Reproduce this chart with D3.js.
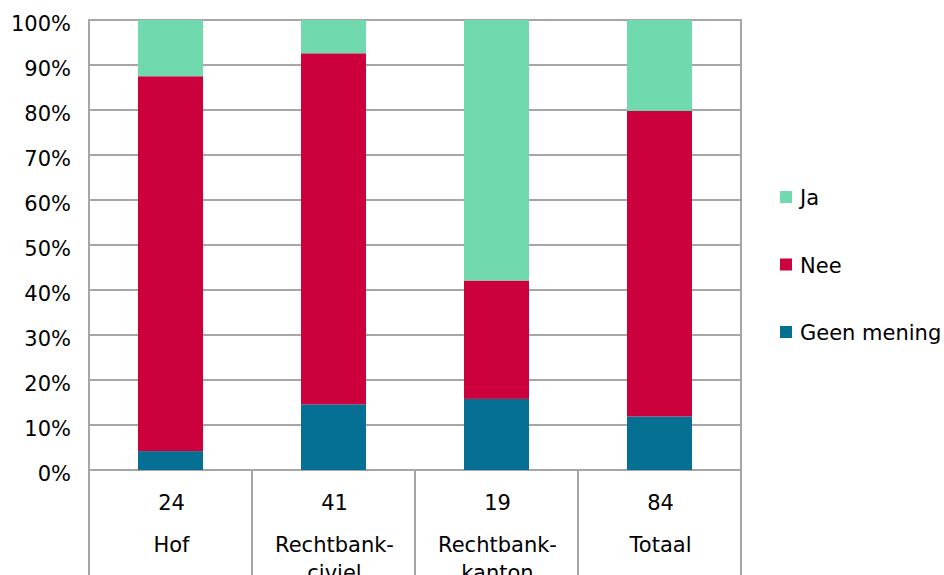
<!DOCTYPE html>
<html>
<head>
<meta charset="utf-8">
<script src="https://cdn.jsdelivr.net/npm/d3@7/dist/d3.min.js"></script>
<style>
	body { margin: 0; background: #fff; }
	svg text { font-family: "DejaVu Sans", Verdana, sans-serif; fill: #000; }
</style>
</head>
<body>
<svg id="chart" width="944" height="575"></svg>
<script>
// data (percentages)
var categories = ["Hof", "Rechtbank-civiel", "Rechtbank-kanton", "Totaal"];
var labelLines = [["Hof"], ["Rechtbank-", "civiel"], ["Rechtbank-", "kanton"], ["Totaal"]];
var counts = [24, 41, 19, 84];
var geenMening = [4.2, 14.6, 15.8, 11.9];
var nee = [83.3, 78.0, 26.3, 67.9];
var ja = [12.5, 7.4, 57.9, 20.2];
var seriesNames = ["Geen mening", "Nee", "Ja"];
var seriesColors = ["#066f94", "#cc003d", "#70d9ad"];
var yTicks = d3.range(0, 101, 10);

var svg = d3.select("#chart");
var plotLeft = 89, plotRight = 741, plotTop = 20, plotBottom = 470;

var x = d3.scaleBand()
	.domain(categories)
	.range([plotLeft, plotRight])
	.paddingInner(0)
	.paddingOuter(0);

var y = d3.scaleLinear()
	.domain([0, 100])
	.range([plotBottom, plotTop]);

var rows = categories.map(function(c, i) {
	return { cat: c, "Geen mening": geenMening[i], "Nee": nee[i], "Ja": ja[i] };
});
var stacked = d3.stack().keys(seriesNames)(rows);

// gridlines
svg.append("g")
	.selectAll("line")
	.data(yTicks)
	.enter()
	.append("line")
	.attr("x1", plotLeft)
	.attr("x2", plotRight)
	.attr("y1", function(d) { return y(d); })
	.attr("y2", function(d) { return y(d); })
	.attr("stroke", "#a6a6a6")
	.attr("stroke-width", 2);

// y labels
svg.append("g")
	.selectAll("text")
	.data(yTicks)
	.enter()
	.append("text")
	.attr("x", 71)
	.attr("y", function(d) { return y(d) + 11; })
	.attr("text-anchor", "end")
	.attr("font-size", "21px")
	.text(function(d) { return d + "%"; });

// bars
var barW = 65;
svg.append("g")
	.selectAll("g")
	.data(stacked)
	.enter()
	.append("g")
	.attr("fill", function(d, i) { return seriesColors[i]; })
	.selectAll("rect")
	.data(function(d) { return d; })
	.enter()
	.append("rect")
	.attr("x", function(d) { return x(d.data.cat) + x.bandwidth() / 2 - barW / 2; })
	.attr("width", barW)
	.attr("y", function(d) { return y(d[1]); })
	.attr("height", function(d) { return y(d[0]) - y(d[1]); });

// frame and table lines
var bounds = categories.map(function(c) { return x(c); }).concat([plotRight]);
svg.append("g")
	.selectAll("line")
	.data(bounds)
	.enter()
	.append("line")
	.attr("x1", function(d) { return d; })
	.attr("x2", function(d) { return d; })
	.attr("y1", function(d, i) { return (i == 0 || i == bounds.length - 1) ? plotTop - 1 : plotBottom; })
	.attr("y2", 575)
	.attr("stroke", "#a6a6a6")
	.attr("stroke-width", 2);

// table text: counts and names
var cells = svg.append("g")
	.selectAll("g")
	.data(categories)
	.enter()
	.append("g")
	.attr("transform", function(d) { return "translate(" + (x(d) + x.bandwidth() / 2 + 1) + ",0)"; });

cells.append("text")
	.attr("y", 510)
	.attr("text-anchor", "middle")
	.attr("font-size", "21px")
	.text(function(d, i) { return counts[i]; });

cells.each(function(d, i) {
	d3.select(this).selectAll("text.name")
		.data(labelLines[i])
		.enter()
		.append("text")
		.attr("class", "name")
		.attr("y", function(t, j) { return 552 + j * 28; })
		.attr("text-anchor", "middle")
		.attr("font-size", "21px")
		.text(function(t) { return t; });
});

// legend
var legendOrder = ["Ja", "Nee", "Geen mening"];
var legend = svg.append("g")
	.selectAll("g")
	.data(legendOrder)
	.enter()
	.append("g")
	.attr("transform", function(d, i) { return "translate(780," + (205 + i * 67.5) + ")"; });

legend.append("rect")
	.attr("x", 0)
	.attr("y", -14)
	.attr("width", 12)
	.attr("height", 12)
	.attr("fill", function(d) { return seriesColors[seriesNames.indexOf(d)]; });

legend.append("text")
	.attr("x", 20)
	.attr("y", 0)
	.attr("font-size", "21px")
	.text(function(d) { return d; });
</script>
</body>
</html>
